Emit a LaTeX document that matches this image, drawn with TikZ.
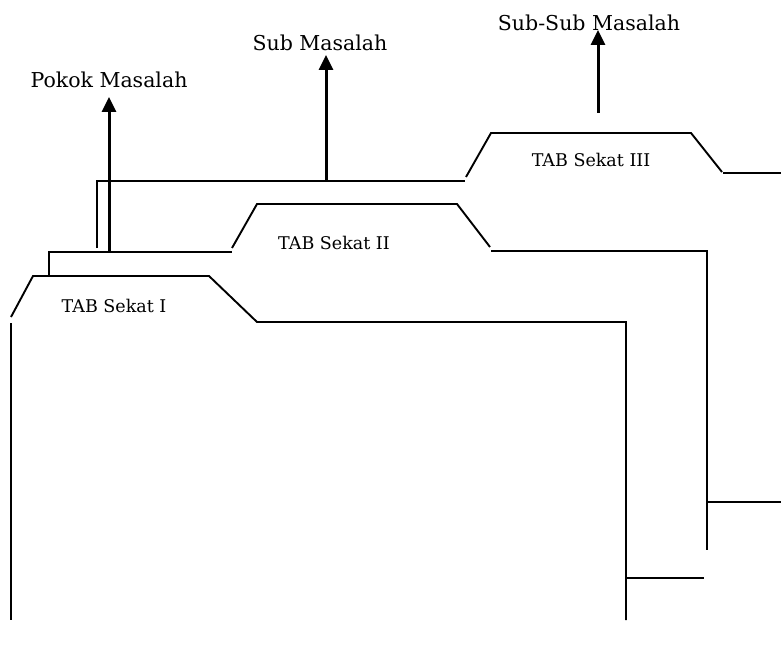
\documentclass[tikz,border=0pt]{standalone}
\usepackage{fontspec}
\setmainfont{DejaVu Serif}
\usetikzlibrary{arrows.meta}

\begin{document}
\begin{tikzpicture}[x=1pt, y=-1pt,
    garis/.style={line width=1.9pt, line cap=butt},
    panah/.style={-{Triangle[length=15pt, width=14pt]}, line width=3pt},
    judul/.style={inner sep=0pt, font=\fontsize{20.5}{24}\selectfont},
    tabtext/.style={inner sep=0pt, font=\fontsize{17.5}{21}\selectfont}]

    \useasboundingbox (0,0) rectangle (781,647);

    % Sekat I
    \draw[garis] (11,317) -- (33,276) -- (209,276) -- (257,322) -- (626,322) -- (626,620);
    \draw[garis] (11,323) -- (11,620);
    \draw[garis] (626,578) -- (704,578);
    \node[tabtext] (tab1) at (114,306) {TAB Sekat I};

    % Sekat II
    \draw[garis] (49,276) -- (49,252) -- (232,252);
    \draw[garis] (232,248) -- (257,204) -- (457,204) -- (490,247);
    \draw[garis] (491,251) -- (707,251) -- (707,550);
    \draw[garis] (707,502) -- (781,502);
    \node[tabtext] (tab2) at (334,243) {TAB Sekat II};

    % Sekat III
    \draw[garis] (97,248) -- (97,181) -- (465,181);
    \draw[garis] (466,177) -- (491,133) -- (691,133) -- (722,172);
    \draw[garis] (723,173) -- (781,173);
    \node[tabtext] (tab3) at (591,160) {TAB Sekat III};

    % Judul
    \node[judul] (pokok)  at (109,80) {Pokok Masalah};
    \node[judul] (sub)    at (320,43) {Sub Masalah};
    \node[judul] (subsub) at (589,23) {Sub-Sub Masalah};

    % Panah
    \coordinate (a1) at (109,252);
    \coordinate (a2) at (326,181);
    \coordinate (a3) at (598,113);
    \draw[panah] (a1) -- (a1 |- 0,97);
    \draw[panah] (a2) -- (a2 |- 0,55);
    \draw[panah] (a3) -- (a3 |- 0,30);

\end{tikzpicture}
\end{document}
